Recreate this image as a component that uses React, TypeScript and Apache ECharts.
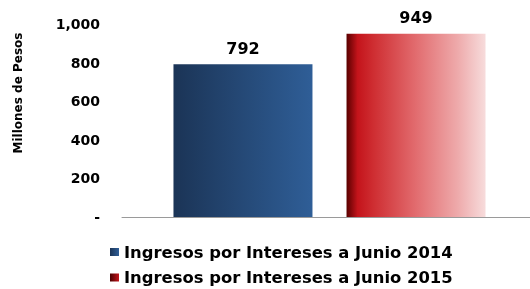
import React, { useEffect, useRef } from "react";
import * as echarts from "echarts";

const categories = ["Junio"];
const seriesNames = ["Ingresos por Intereses a Junio 2014", "Ingresos por Intereses a Junio 2015"];
const values2014 = [792];
const values2015 = [949];
const yTicks = [0, 200, 400, 600, 800, 1000];
const yAxisName = "Millones de Pesos";

const FONT = "DejaVu Sans";

export default function App() {
  const ref = useRef<HTMLDivElement>(null);
  useEffect(() => {
    document.body.style.margin = "0";
    const chart = echarts.init(ref.current!, null, { renderer: "svg" });
    const blueGrad = new echarts.graphic.LinearGradient(0, 0, 1, 0, [
      { offset: 0, color: "#1b3456" },
      { offset: 1, color: "#2f5e97" },
    ]);
    const redGrad = new echarts.graphic.LinearGradient(0, 0, 1, 0, [
      { offset: 0, color: "#5a0000" },
      { offset: 0.08, color: "#c4141b" },
      { offset: 0.2, color: "#cf2f33" },
      { offset: 0.5, color: "#e26c6f" },
      { offset: 0.8, color: "#eeaaab" },
      { offset: 1, color: "#f7dcdc" },
    ]);
    const redIconGrad = new echarts.graphic.LinearGradient(0, 0, 1, 0, [
      { offset: 0, color: "#4a0000" },
      { offset: 1, color: "#c4141b" },
    ]);
    const labelStyle = {
      show: true,
      position: "top",
      distance: 8,
      fontFamily: FONT,
      fontWeight: "bold",
      fontSize: 16,
      color: "#000",
    };
    chart.setOption({
      animation: false,
      grid: [
        { left: 129, right: 0, top: 24, bottom: 72, containLabel: false },
        { left: 122, right: 0, top: 24, bottom: 72, containLabel: false },
      ],
      legend: {
        orient: "vertical",
        left: 110,
        top: 244,
        padding: 0,
        itemWidth: 9,
        itemHeight: 8,
        itemGap: 9.5,
        icon: "rect",
        textStyle: { fontFamily: FONT, fontWeight: "bold", fontSize: 16.4, color: "#000", lineHeight: 16 },
        data: [
          { name: seriesNames[0] },
          { name: seriesNames[1], itemStyle: { color: redIconGrad } },
        ],
      },
      xAxis: [
        {
          type: "category",
          gridIndex: 0,
          data: categories,
          axisLine: { show: false },
          axisTick: { show: false },
          axisLabel: { show: false },
        },
        {
          type: "value",
          gridIndex: 1,
          min: 0,
          max: 1,
          axisLine: { show: true, lineStyle: { color: "#9a9a9a", width: 1 } },
          axisTick: { show: false },
          axisLabel: { show: false },
          splitLine: { show: false },
        },
      ],
      yAxis: [
        {
          type: "value",
          gridIndex: 0,
          min: yTicks[0],
          max: yTicks[yTicks.length - 1],
          interval: 200,
          axisLine: { show: false },
          axisTick: { show: false },
          splitLine: { show: false },
          axisLabel: {
            margin: 29,
            fontFamily: FONT,
            fontWeight: "bold",
            fontSize: 14,
            color: "#000",
            formatter: (v: number) => (v === 0 ? "-" : v.toLocaleString("en-US")),
          },
        },
        {
          type: "value",
          gridIndex: 1,
          min: 0,
          max: 1,
          show: false,
        },
      ],
      graphic: [
        {
          type: "text",
          x: 18,
          y: 93,
          rotation: Math.PI / 2,
          style: {
            text: yAxisName,
            fontFamily: FONT,
            fontWeight: "bold",
            fontSize: 12,
            fill: "#000",
            align: "center",
            verticalAlign: "middle",
          },
        },
      ],
      series: [
        {
          name: seriesNames[0],
          type: "bar",
          xAxisIndex: 0,
          yAxisIndex: 0,
          data: values2014,
          barWidth: 139,
          barGap: "24.5%",
          itemStyle: { color: blueGrad },
          label: labelStyle,
        },
        {
          name: seriesNames[1],
          type: "bar",
          xAxisIndex: 0,
          yAxisIndex: 0,
          data: values2015,
          barWidth: 139,
          itemStyle: { color: redGrad },
          label: labelStyle,
        },
      ],
    });
    return () => chart.dispose();
  }, []);
  return <div ref={ref} style={{ width: 530, height: 289, position: "fixed", left: 0, top: 0 }} />;
}
